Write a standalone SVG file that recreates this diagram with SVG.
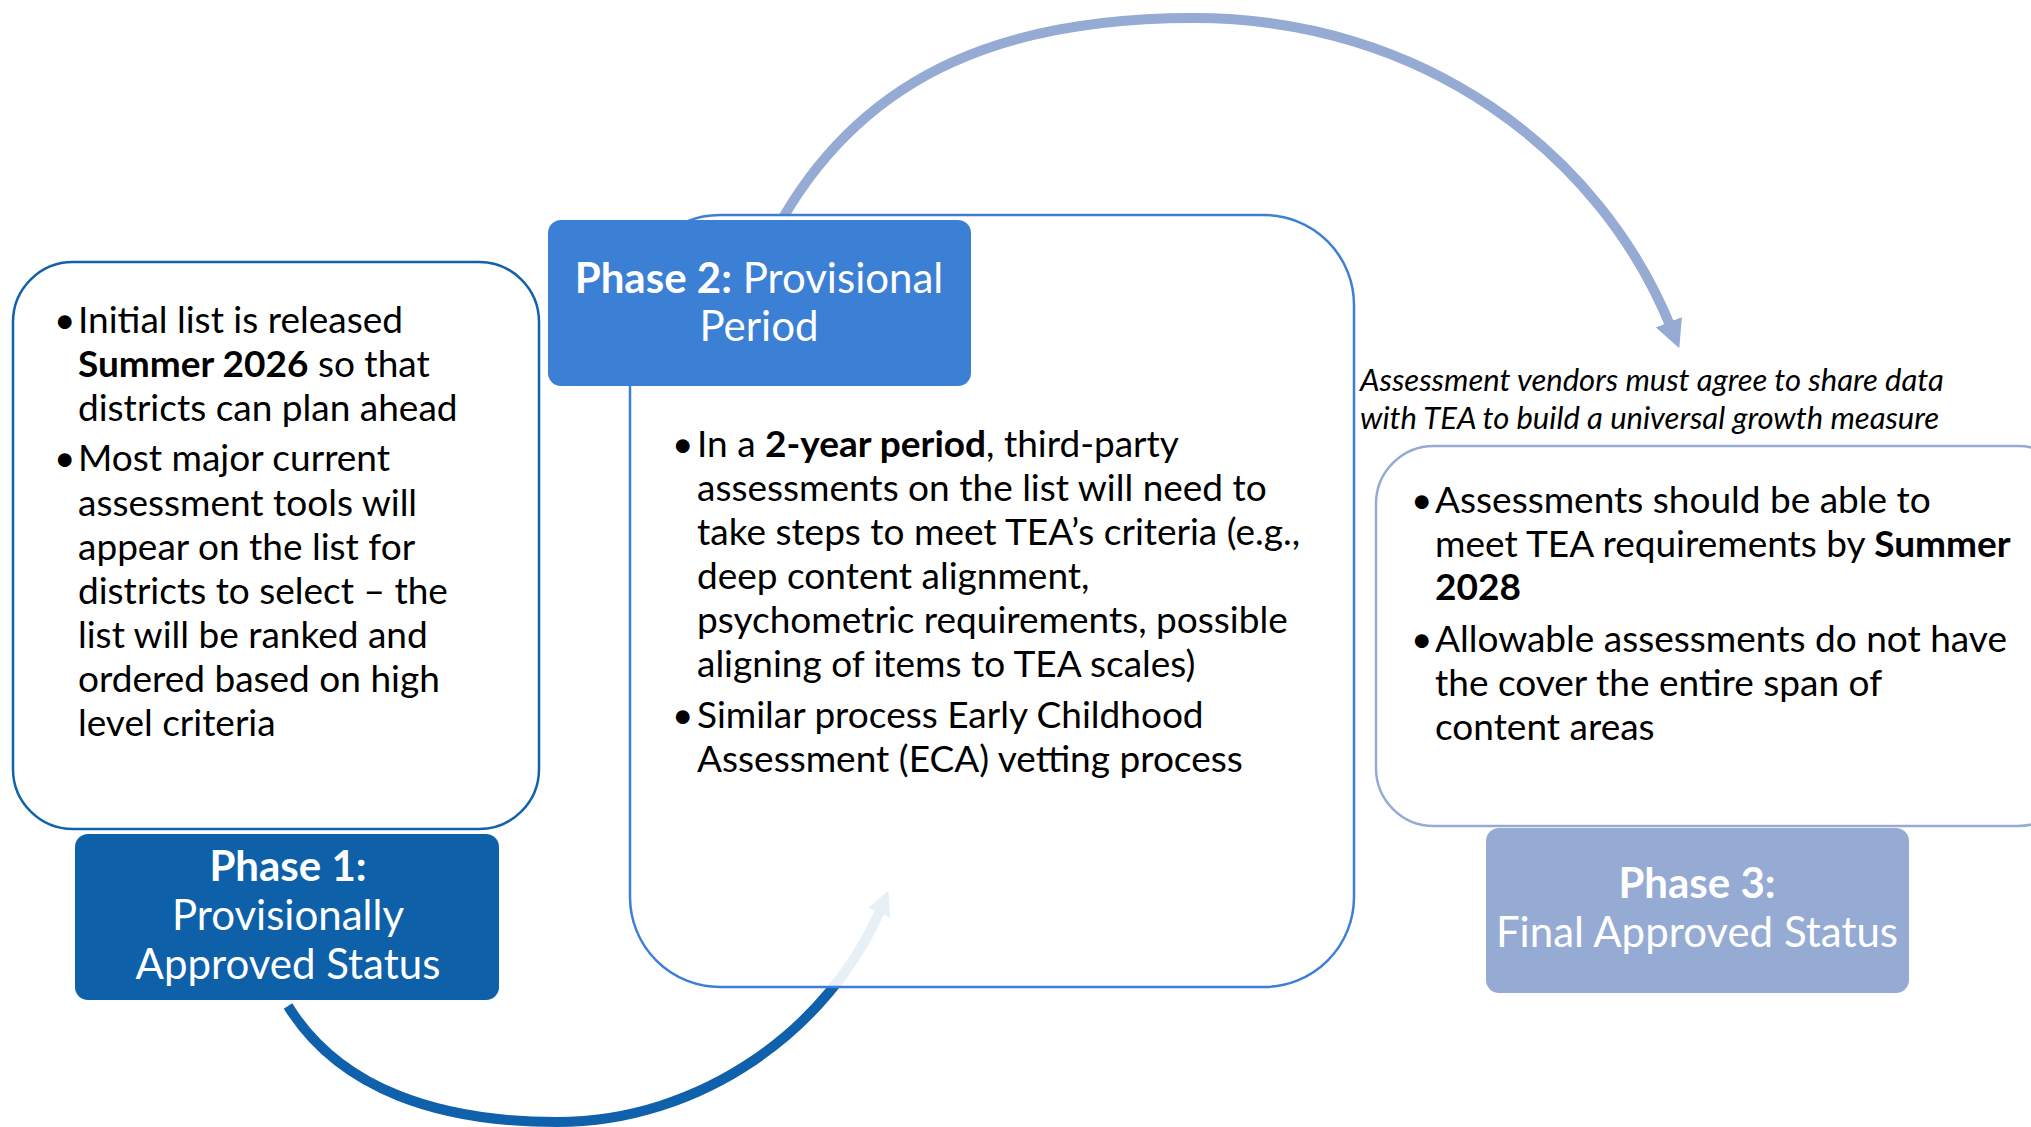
<svg xmlns="http://www.w3.org/2000/svg" width="2031" height="1127" viewBox="0 0 2031 1127">
<style>
.body{font-family:Lato,"Open Sans","Liberation Sans",sans-serif;font-size:37px;fill:#000}
.lbl{font-family:Lato,"Open Sans","Liberation Sans",sans-serif;font-size:42px;fill:#fff;text-anchor:middle}
.cap{font-family:Lato,"Open Sans","Liberation Sans",sans-serif;font-size:31px;font-style:italic;fill:#000}
.b{font-weight:bold}
</style>
<defs>
<marker id="ahDark" viewBox="0 0 10 10" refX="3" refY="5" markerUnits="userSpaceOnUse" markerWidth="24" markerHeight="24" orient="auto"><path d="M0,0 L10,5 L0,10 z" fill="#0f61ab"/></marker>
<marker id="ahLight" viewBox="0 0 10 10" refX="3" refY="5" markerUnits="userSpaceOnUse" markerWidth="28" markerHeight="28" orient="auto"><path d="M0,0 L10,5 L0,10 z" fill="#96abd3"/></marker>
</defs>
<rect width="2031" height="1127" fill="#fff"/>
<g id="connectors" fill="none">
<path d="M288,1006 C340,1090 440,1122 557,1122 C700,1122 830,1030 882,906" stroke="#0f61ab" stroke-width="10" marker-end="url(#ahDark)"/>
<path d="M784,216 C870,70 1010,18 1194,18 C1420,18 1600,150 1672,330" stroke="#96abd3" stroke-width="10" marker-end="url(#ahLight)"/>
</g>
<g id="phase1-box">
<rect x="13" y="262" width="526" height="567" rx="60" fill="#fff" stroke="#1261ab" stroke-width="2.5"/>
<text class="body" x="54" y="333">•</text>
<text class="body" x="78" y="333">Initial list is released</text>
<text class="body" x="78" y="377"><tspan class="b">Summer 2026</tspan> so that</text>
<text class="body" x="78" y="421">districts can plan ahead</text>
<text class="body" x="54" y="471">•</text>
<text class="body" x="78" y="471">Most major current</text>
<text class="body" x="78" y="516">assessment tools will</text>
<text class="body" x="78" y="560">appear on the list for</text>
<text class="body" x="78" y="604">districts to select – the</text>
<text class="body" x="78" y="648">list will be ranked and</text>
<text class="body" x="78" y="692">ordered based on high</text>
<text class="body" x="78" y="736">level criteria</text>
</g>
<g id="phase1-label">
<rect x="75" y="834" width="424" height="166" rx="13" fill="#0e61a9"/>
<text class="lbl b" x="288" y="881">Phase 1:</text>
<text class="lbl" x="288" y="930">Provisionally</text>
<text class="lbl" x="288" y="979">Approved Status</text>
</g>
<g id="phase2-box">
<rect x="630" y="215" width="724" height="772" rx="90" fill="#fff" fill-opacity="0.9" stroke="#3b80d5" stroke-width="2.5"/>
<text class="body" x="672" y="457">•</text>
<text class="body" x="697" y="457">In a <tspan class="b">2-year period</tspan>, third-party</text>
<text class="body" x="697" y="501">assessments on the list will need to</text>
<text class="body" x="697" y="545">take steps to meet TEA’s criteria (e.g.,</text>
<text class="body" x="697" y="589">deep content alignment,</text>
<text class="body" x="697" y="633">psychometric requirements, possible</text>
<text class="body" x="697" y="677">aligning of items to TEA scales)</text>
<text class="body" x="672" y="728">•</text>
<text class="body" x="697" y="728">Similar process Early Childhood</text>
<text class="body" x="697" y="772">Assessment (ECA) vetting process</text>
</g>
<g id="phase2-label">
<rect x="548" y="220" width="423" height="166" rx="13" fill="#3b80d5"/>
<text class="lbl" x="759" y="293"><tspan class="b">Phase 2:</tspan> Provisional</text>
<text class="lbl" x="759" y="341">Period</text>
</g>
<g id="caption">
<text class="cap" x="1360" y="391">Assessment vendors must agree to share data</text>
<text class="cap" x="1360" y="429">with TEA to build a universal growth measure</text>
</g>
<g id="phase3-box">
<rect x="1376" y="446" width="700" height="380" rx="58" fill="#fff" stroke="#96abd3" stroke-width="2.5"/>
<text class="body" x="1411" y="513">•</text>
<text class="body" x="1435" y="513">Assessments should be able to</text>
<text class="body" x="1435" y="557">meet TEA requirements by <tspan class="b">Summer</tspan></text>
<text class="body b" x="1435" y="600">2028</text>
<text class="body" x="1411" y="652">•</text>
<text class="body" x="1435" y="652">Allowable assessments do not have</text>
<text class="body" x="1435" y="696">the cover the entire span of</text>
<text class="body" x="1435" y="740">content areas</text>
</g>
<g id="phase3-label">
<rect x="1486" y="828" width="423" height="165" rx="13" fill="#96abd3"/>
<text class="lbl b" x="1697" y="898">Phase 3:</text>
<text class="lbl" x="1697" y="947">Final Approved Status</text>
</g>
</svg>
